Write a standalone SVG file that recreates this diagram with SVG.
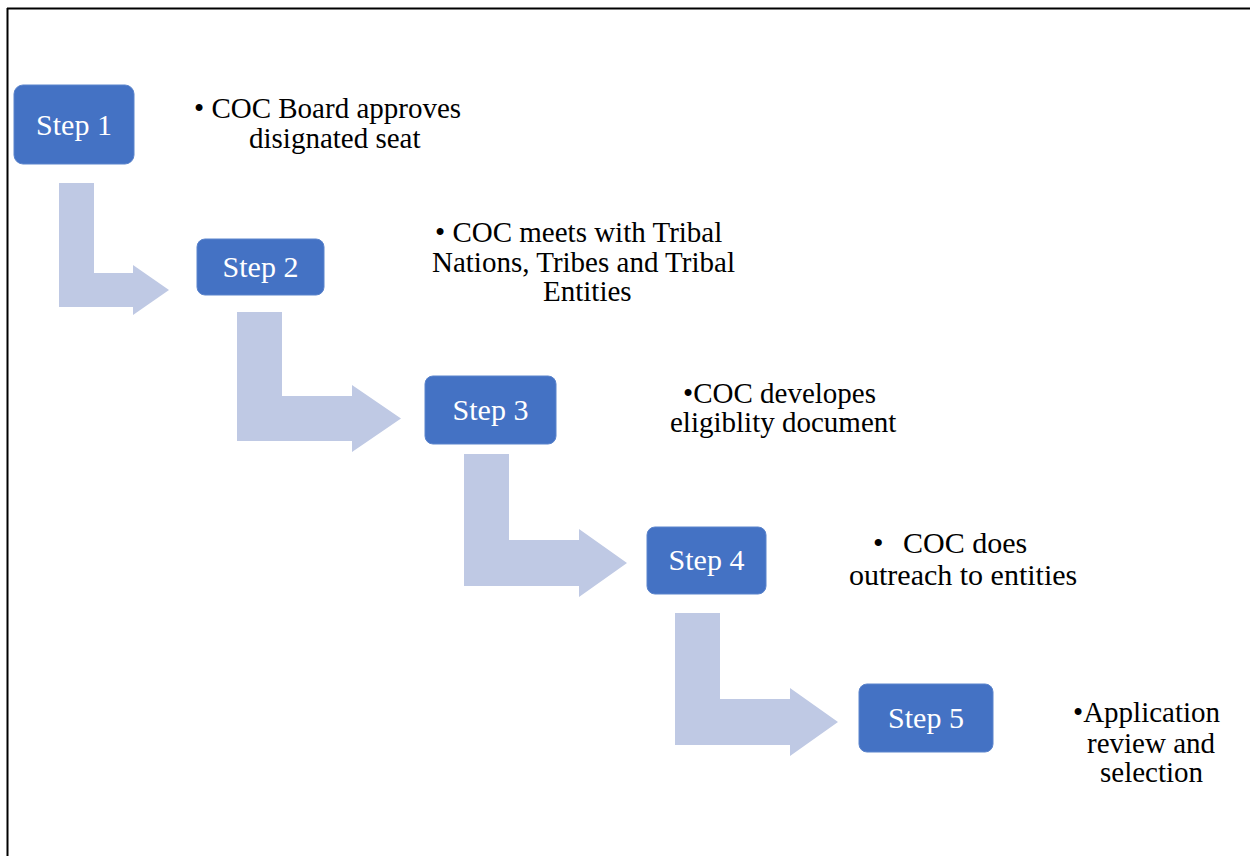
<svg xmlns="http://www.w3.org/2000/svg" width="1250" height="856" viewBox="0 0 1250 856">
<style>
.box{fill:#4472C4;stroke:#5B84CC;stroke-width:1}
.arrow{fill:#BFC9E4}
.lbl{font-family:"Liberation Serif","Times New Roman",serif;font-size:30px;fill:#FFFFFF;text-anchor:middle}
.txt{font-family:"Liberation Serif","Times New Roman",serif;font-size:29px;fill:#000000}
</style>
<rect x="0" y="0" width="1250" height="856" fill="#FFFFFF"/>
<g id="frame">
<line x1="7" y1="8.5" x2="1250" y2="8.5" stroke="#000" stroke-width="2"/>
<line x1="7.5" y1="8" x2="7.5" y2="856" stroke="#000" stroke-width="2"/>
</g>
<g id="connectors">
<path class="arrow" d="M59,183 H94 V273 H133 V265 L169,290 L133,315 V307 H59 Z"/>
<path class="arrow" d="M237,312 H282 V396 H352 V385 L401,418.5 L352,452 V441 H237 Z"/>
<path class="arrow" d="M464,454 H509 V540 H579 V529 L627,563 L579,597 V586 H464 Z"/>
<path class="arrow" d="M675,613 H720 V699 H790 V688 L838,722 L790,756 V745 H675 Z"/>
</g>
<g id="step1">
<rect class="box" x="14" y="85" width="120" height="79" rx="9"/>
<text class="lbl" x="74" y="135">Step 1</text>
</g>
<g id="step2">
<rect class="box" x="197" y="239" width="127" height="56" rx="8"/>
<text class="lbl" x="260.5" y="277">Step 2</text>
</g>
<g id="step3">
<rect class="box" x="425" y="376" width="131" height="68" rx="8"/>
<text class="lbl" x="490.5" y="420">Step 3</text>
</g>
<g id="step4">
<rect class="box" x="647" y="527" width="119" height="67" rx="8"/>
<text class="lbl" x="706.5" y="570">Step 4</text>
</g>
<g id="step5">
<rect class="box" x="859" y="684" width="134" height="68" rx="8"/>
<text class="lbl" x="926" y="728">Step 5</text>
</g>
<g id="desc1">
<text class="txt"><tspan x="194" y="118">• COC Board approves</tspan><tspan x="249" y="148">disignated seat</tspan></text>
</g>
<g id="desc2">
<text class="txt"><tspan x="435" y="242">• COC meets with Tribal</tspan><tspan x="432" y="272">Nations, Tribes and Tribal</tspan><tspan x="543" y="301">Entities</tspan></text>
</g>
<g id="desc3">
<text class="txt"><tspan x="683" y="403">•COC developes</tspan><tspan x="670" y="432">eligiblity document</tspan></text>
</g>
<g id="desc4">
<text class="txt" style="font-size:30px"><tspan x="873" y="553">•</tspan><tspan x="903" y="553">COC does</tspan><tspan x="849" y="585">outreach to entities</tspan></text>
</g>
<g id="desc5">
<text class="txt"><tspan x="1073" y="722">•Application</tspan><tspan x="1087" y="753">review and</tspan><tspan x="1100" y="782">selection</tspan></text>
</g>
</svg>
